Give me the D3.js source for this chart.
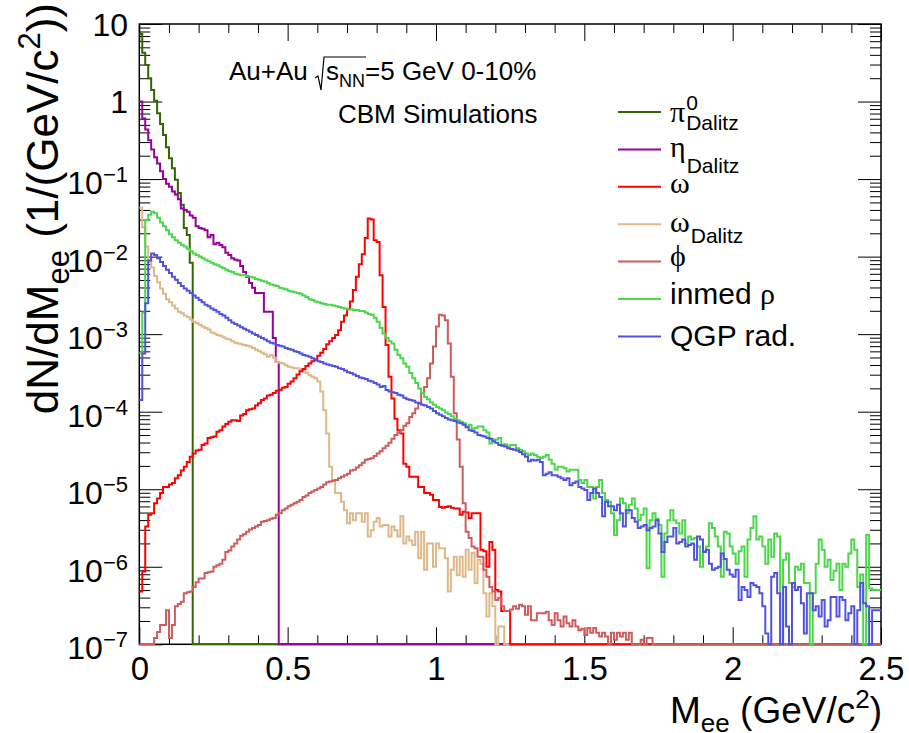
<!DOCTYPE html>
<html>
<head>
<meta charset="utf-8">
<script src="https://cdn.jsdelivr.net/npm/d3@7"></script>
<style>
  html, body { margin: 0; padding: 0; background: #fff; }
  svg { display: block; font-family: "Liberation Sans", Arial, Helvetica, sans-serif; }
  .greek { font-family: "Liberation Serif", "DejaVu Serif", serif; }
</style>
</head>
<body>
<div id="chart"></div>
<script>
/* ============================================================
   dN/dMee cocktail - CBM simulation, ROOT-style log histogram
   ============================================================ */

const W = 909, H = 733;
const FRAME = { left: 139.3, right: 881, top: 24, bottom: 644.3 };

// binning of all histograms
const BIN_WIDTH = 0.01;
const N_BINS = 250;

// axis ticks / labels
const X_TICKS = [0, 0.5, 1, 1.5, 2, 2.5];
const X_TICK_LABELS = ["0", "0.5", "1", "1.5", "2", "2.5"];
const X_MINOR = [0.1, 0.2, 0.3, 0.4, 0.6, 0.7, 0.8, 0.9, 1.1, 1.2, 1.3, 1.4,
  1.6, 1.7, 1.8, 1.9, 2.1, 2.2, 2.3, 2.4];
const Y_DECADES = [-7, -6, -5, -4, -3, -2, -1, 0, 1];
const Y_MINOR_STEPS = [2, 3, 4, 5, 6, 7, 8, 9];

// histogram contents, stored as log10(dN/dMee) per 10 MeV bin.
// null = empty bin; bins past the end of an array are empty.
const pi0Log = [0.87, 0.63, 0.47, 0.30, 0.15, 0.01, -0.15, -0.29, -0.43, -0.59,
  -0.73, -0.86, -1.01, -1.18, -1.33, -1.63, -1.72, -2.08];

const etaLog = [0.00, -0.22, -0.36, -0.50, -0.62, -0.72, -0.80, -0.90, -1.00, -1.06,
  -1.10, -1.16, -1.20, -1.26, -1.38, -1.40, -1.42, -1.47, -1.50, -1.61,
  -1.63, -1.64, -1.66, -1.75, -1.72, -1.84, -1.82, -1.85, -1.88, -1.95,
  -1.98, -2.02, -2.04, -2.05, -2.12, -2.20, -2.26, -2.34, -2.40, -2.47,
  -2.47, -2.47, -2.71, -2.71, -2.71, -3.05, -3.36];

const omegaLog = [-6.32, -6.06, -5.48, -5.33, -5.31, -5.18, -5.12, -5.05, -4.97, -4.97,
  -4.94, -4.92, -4.86, -4.82, -4.76, -4.71, -4.65, -4.58, -4.54, -4.50,
  -4.49, -4.43, -4.41, -4.34, -4.33, -4.32, -4.26, -4.24, -4.19, -4.16,
  -4.13, -4.11, -4.11, -4.12, -4.05, -4.03, -3.98, -3.97, -3.96, -3.92,
  -3.89, -3.85, -3.83, -3.79, -3.78, -3.76, -3.73, -3.72, -3.69, -3.68,
  -3.64, -3.61, -3.57, -3.52, -3.48, -3.45, -3.41, -3.38, -3.35, -3.33,
  -3.28, -3.24, -3.19, -3.13, -3.09, -3.05, -3.01, -2.95, -2.84, -2.76,
  -2.68, -2.58, -2.43, -2.26, -2.10, -1.97, -1.76, -1.51, -1.52, -1.79,
  -1.81, -2.24, -2.65, -3.14, -3.55, -3.83, -4.09, -4.24, -4.28, -4.67,
  -4.71, -4.84, -4.84, -4.84, -4.97, -4.97, -5.05, -5.05, -5.07, -5.14,
  -5.14, -5.23, -5.24, -5.23, -5.22, -5.24, -5.25, -5.25, -5.33, -5.29,
  -5.30, -5.37, -5.31, -5.31, -5.31, -5.78, -5.80, -6.00, -5.68, -5.78,
  -6.30, -6.32, -6.57, -6.57, -6.57];

const omegaDalitzLog = [-1.37, -1.62, -1.87, -2.07, -2.14, -2.25, -2.33, -2.41, -2.48, -2.55,
  -2.59, -2.63, -2.67, -2.71, -2.73, -2.76, -2.78, -2.81, -2.84, -2.86,
  -2.88, -2.90, -2.92, -2.94, -2.98, -2.99, -3.01, -3.02, -3.04, -3.06,
  -3.07, -3.09, -3.11, -3.12, -3.13, -3.14, -3.15, -3.16, -3.18, -3.20,
  -3.22, -3.24, -3.26, -3.29, -3.27, -3.30, -3.36, -3.37, -3.38, -3.40,
  -3.42, -3.43, -3.44, -3.44, -3.46, -3.48, -3.50, -3.53, -3.55, -3.57,
  -3.61, -3.74, -3.98, -4.28, -4.71, -4.88, -5.05, -5.05, -5.16, -5.27,
  -5.44, -5.31, -5.40, -5.31, -5.31, -5.42, -5.31, -5.61, -5.53, -5.42,
  -5.37, -5.48, -5.46, -5.46, -5.61, -5.48, -5.53, -5.61, -5.35, -5.70,
  -5.61, -5.66, -5.72, -5.55, -5.89, -5.55, -6.04, -5.70, -5.70, -6.00,
  -5.70, -5.76, -5.76, -5.89, -6.32, -6.04, -5.87, -6.11, -5.87, -6.13,
  -5.78, -6.04, -5.82, -6.21, -5.91, -5.96, -6.34, -6.64, -6.34, -6.51,
  null, -6.77, -6.77];

const phiLog = [null, null, null, null, null, -6.92, -6.84, -6.75, -6.75, -6.56,
  -6.92, -6.75, -6.51, -6.48, -6.45, -6.34, -6.33, -6.32, -6.26, -6.20,
  -6.15, -6.15, -6.08, -6.07, -6.06, -6.00, -5.98, -5.96, -5.91, -5.81,
  -5.79, -5.74, -5.70, -5.65, -5.60, -5.58, -5.55, -5.52, -5.50, -5.48,
  -5.46, -5.42, -5.41, -5.40, -5.38, -5.37, -5.33, -5.31, -5.27, -5.25,
  -5.22, -5.20, -5.18, -5.16, -5.14, -5.10, -5.08, -5.05, -5.03, -5.01,
  -4.99, -4.97, -4.94, -4.91, -4.90, -4.89, -4.88, -4.86, -4.84, -4.82,
  -4.80, -4.76, -4.75, -4.72, -4.69, -4.66, -4.62, -4.61, -4.60, -4.57,
  -4.54, -4.51, -4.47, -4.44, -4.40, -4.35, -4.30, -4.27, -4.24, -4.18,
  -4.15, -4.07, -4.02, -3.96, -3.89, -3.76, -3.68, -3.57, -3.38, -3.16,
  -2.90, -2.75, -2.76, -2.82, -3.12, -3.55, -4.02, -4.36, -4.71, -5.18,
  -5.55, -5.63, -5.74, -5.76, -5.87, -5.87, -6.04, -6.13, -6.26, -6.32,
  -6.43, -6.40, -6.51, -6.57, -6.57, -6.55, -6.51, -6.54, -6.49, -6.51,
  -6.62, -6.51, -6.69, -6.69, -6.60, -6.60, -6.60, -6.58, -6.69, -6.75,
  -6.60, -6.69, -6.77, -6.64, -6.73, -6.77, -6.69, -6.77, -6.82, -6.80,
  -6.88, -6.79, -6.85, -6.79, -6.85, -6.90, -6.85, -6.90, null, -6.85,
  -6.94, -6.85, -6.90, -6.85, -6.94, -6.85, null, null, null, -6.94,
  null, -6.92, -6.92];

const rhoLog = [-3.24, -2.72, -1.53, -1.46, -1.42, -1.44, -1.50, -1.56, -1.61, -1.66,
  -1.71, -1.75, -1.79, -1.82, -1.85, -1.87, -1.90, -1.93, -1.96, -1.98,
  -2.00, -2.02, -2.04, -2.06, -2.08, -2.10, -2.11, -2.13, -2.15, -2.17,
  -2.19, -2.20, -2.22, -2.23, -2.24, -2.24, -2.25, -2.26, -2.27, -2.29,
  -2.30, -2.31, -2.32, -2.34, -2.36, -2.37, -2.38, -2.40, -2.41, -2.42,
  -2.44, -2.45, -2.46, -2.47, -2.48, -2.50, -2.52, -2.55, -2.56, -2.58,
  -2.59, -2.60, -2.61, -2.62, -2.62, -2.63, -2.64, -2.65, -2.66, -2.67,
  -2.68, -2.68, -2.69, -2.69, -2.70, -2.70, -2.72, -2.74, -2.75, -2.79,
  -2.84, -2.92, -2.99, -3.05, -3.09, -3.12, -3.20, -3.27, -3.31, -3.38,
  -3.42, -3.50, -3.57, -3.63, -3.70, -3.76, -3.81, -3.84, -3.88, -3.91,
  -3.94, -3.96, -3.98, -4.01, -4.03, -4.06, -4.09, -4.11, -4.13, -4.15,
  -4.19, -4.17, -4.22, -4.21, -4.19, -4.19, -4.24, -4.27, -4.41, -4.36,
  -4.36, -4.34, -4.43, -4.42, -4.45, -4.43, -4.43, -4.47, -4.49, -4.51,
  -4.54, -4.56, -4.54, -4.56, -4.58, -4.60, -4.58, -4.56, -4.62, -4.67,
  -4.75, -4.71, -4.71, -4.73, -4.77, -4.75, -4.75, -4.75, -4.88, -4.92,
  -4.88, -4.97, -4.97, -5.12, -4.97, -4.88, -5.05, -5.14, -5.16, -5.31,
  -5.59, -5.40, -5.12, -5.18, -5.31, -5.20, -5.12, -5.25, -5.40, -5.33,
  -5.25, -6.02, -5.40, -5.31, -5.38, -5.46, -6.13, -5.57, -5.40, -5.27,
  -5.40, -5.44, -5.57, -5.40, -5.70, -5.61, -5.65, -5.63, -5.74, -6.00,
  -5.80, -5.74, -5.44, -5.50, -5.61, -5.74, -6.13, -5.55, -5.57, -5.74,
  -5.83, -5.96, -5.80, -5.74, -6.13, -5.65, -5.50, -5.35, -5.65, -5.61,
  -5.74, -5.96, -5.65, -5.87, -5.57, -5.61, null, -5.91, -5.83, -6.21,
  -6.26, -6.00, -6.04, -5.96, -6.21, -6.21, null, -6.34, -5.96, -5.65,
  -5.78, -6.00, -5.91, -6.17, -6.05, -5.96, -6.30, -5.96, -6.00, -5.83,
  -5.65, -5.78, -6.26, -6.10, null, -5.59, -6.28, -6.30, -6.30, -6.30];

const qgpLog = [-3.85, -3.25, -2.60, -2.05, -1.96, -1.98, -2.02, -2.07, -2.12, -2.17,
  -2.21, -2.26, -2.30, -2.34, -2.38, -2.41, -2.44, -2.47, -2.50, -2.53,
  -2.56, -2.59, -2.62, -2.64, -2.67, -2.69, -2.71, -2.74, -2.76, -2.79,
  -2.82, -2.85, -2.87, -2.89, -2.91, -2.93, -2.95, -2.97, -2.99, -3.01,
  -3.03, -3.05, -3.07, -3.09, -3.11, -3.12, -3.14, -3.15, -3.16, -3.18,
  -3.19, -3.20, -3.22, -3.23, -3.25, -3.27, -3.28, -3.29, -3.31, -3.33,
  -3.35, -3.36, -3.38, -3.39, -3.40, -3.41, -3.42, -3.44, -3.45, -3.47,
  -3.49, -3.50, -3.52, -3.54, -3.56, -3.57, -3.58, -3.60, -3.61, -3.63,
  -3.65, -3.68, -3.67, -3.72, -3.74, -3.75, -3.76, -3.78, -3.79, -3.82,
  -3.84, -3.85, -3.86, -3.88, -3.89, -3.91, -3.92, -3.94, -3.96, -3.99,
  -4.02, -4.04, -4.06, -4.08, -4.10, -4.11, -4.12, -4.14, -4.15, -4.17,
  -4.20, -4.24, -4.25, -4.27, -4.30, -4.31, -4.32, -4.34, -4.35, -4.38,
  -4.40, -4.43, -4.44, -4.45, -4.47, -4.48, -4.49, -4.50, -4.52, -4.55,
  -4.58, -4.64, -4.62, -4.63, -4.62, -4.65, -4.82, -4.80, -4.78, -4.82,
  -4.82, -4.84, -4.86, -4.88, -4.86, -4.95, -4.92, -4.90, -4.97, -4.99,
  -5.01, -5.14, -5.05, -4.99, -5.05, -5.10, -5.35, -5.16, -5.22, -5.22,
  -5.27, -5.20, -5.31, -5.48, -5.27, -5.27, -5.37, -5.42, -5.50, -5.48,
  -5.46, -5.53, -5.50, -5.48, -5.40, -5.57, -5.81, -5.68, -5.61, -5.61,
  -5.50, -5.70, -5.68, -5.65, -5.74, -5.72, -5.70, -5.91, -5.61, -5.65,
  -5.81, -5.78, -5.96, -6.04, -6.02, -6.00, -5.83, -5.90, -6.04, -6.10,
  -6.13, -6.04, -6.43, -6.26, -6.30, -6.39, -6.21, -6.24, -6.26, -6.34,
  -6.51, -6.86, null, -6.13, -6.08, -6.34, null, -6.26, -6.77, null,
  -6.21, -6.30, -6.26, -6.47, -6.86, -6.34, -6.34, -6.56, -6.51, -6.64,
  -6.43, -6.77, -6.69, -6.39, -6.39, -6.64, -6.39, -6.43, -6.69, -6.60,
  -6.51, null, -6.56, -6.21, -6.47, -6.51, null, -6.56, -6.56, -6.56];

// draw order (later on top), colours and legend rows
const SERIES = [
  { key: "pi0", data: pi0Log, color: "#336600" },
  { key: "eta", data: etaLog, color: "#990099" },
  { key: "omegaDalitz", data: omegaDalitzLog, color: "#deb887" },
  { key: "omega", data: omegaLog, color: "#ff0000" },
  { key: "phi", data: phiLog, color: "#cd5c5c" },
  { key: "rho", data: rhoLog, color: "#4cd64c" },
  { key: "qgp", data: qgpLog, color: "#5252e0" },
];
const LEGEND_ORDER = ["pi0", "eta", "omega", "omegaDalitz", "phi", "rho", "qgp"];

/* ---------- scales ---------- */
const x = d3.scaleLinear().domain([0, 2.5]).range([FRAME.left, FRAME.right]);
const y = d3.scaleLog().domain([1e-7, 10]).range([FRAME.bottom, FRAME.top]).clamp(true);

const svg = d3.select("#chart").append("svg")
  .attr("width", W).attr("height", H)
  .attr("viewBox", `0 0 ${W} ${H}`);

/* ---------- frame + ticks (drawn first, histograms go on top) ---------- */
const axG = svg.append("g").attr("stroke-width", 1);

function drawAxis(axis, tx, ty) {
  const g = axG.append("g").attr("transform", `translate(${tx},${ty})`).call(axis);
  g.select(".domain").remove();
  g.selectAll("line").attr("stroke", "#000");
  return g;
}

// x: bottom + top, major and minor
drawAxis(d3.axisBottom(x).tickValues(X_MINOR).tickSize(-9).tickFormat(""), 0, FRAME.bottom);
drawAxis(d3.axisTop(x).tickValues(X_MINOR).tickSize(-9).tickFormat(""), 0, FRAME.top);
drawAxis(d3.axisTop(x).tickValues(X_TICKS).tickSize(-17).tickFormat(""), 0, FRAME.top);
const xAx = drawAxis(
  d3.axisBottom(x).tickValues(X_TICKS).tickSize(-17).tickPadding(12)
    .tickFormat((d, i) => X_TICK_LABELS[i]),
  0, FRAME.bottom
);
xAx.selectAll("text")
  .attr("font-size", 33)
  .attr("fill", "#000");

// y: left + right, decades and 2..9 minors
const yMajor = Y_DECADES.map((e) => Math.pow(10, e));
const yMinor = [];
Y_DECADES.slice(0, -1).forEach((e) =>
  Y_MINOR_STEPS.forEach((k) => yMinor.push(k * Math.pow(10, e)))
);
drawAxis(d3.axisLeft(y).tickValues(yMinor).tickSize(-11).tickFormat(""), FRAME.left, 0);
drawAxis(d3.axisLeft(y).tickValues(yMajor).tickSize(-23).tickFormat(""), FRAME.left, 0);
drawAxis(d3.axisRight(y).tickValues(yMinor).tickSize(-11).tickFormat(""), FRAME.right, 0);
drawAxis(d3.axisRight(y).tickValues(yMajor).tickSize(-23).tickFormat(""), FRAME.right, 0);

svg.append("rect")
  .attr("x", FRAME.left).attr("y", FRAME.top)
  .attr("width", FRAME.right - FRAME.left)
  .attr("height", FRAME.bottom - FRAME.top)
  .attr("fill", "none").attr("stroke", "#000").attr("stroke-width", 1.5);

/* ---------- histograms as step lines ---------- */
function yOf(logVal) {
  return logVal == null ? y(1e-7) : y(Math.pow(10, logVal));
}

function stepPoints(vals) {
  const pts = [];
  for (let i = 0; i < N_BINS; i++) {
    const v = i < vals.length ? vals[i] : null;
    const py = yOf(v);
    pts.push([x(i * BIN_WIDTH), py], [x((i + 1) * BIN_WIDTH), py]);
  }
  return pts;
}

const histG = svg.append("g");
SERIES.forEach((s) => {
  histG.append("path")
    .attr("d", d3.line()(stepPoints(s.data)))
    .attr("fill", "none")
    .attr("stroke", s.color)
    .attr("stroke-width", 2)
    .attr("stroke-linejoin", "miter");
});

// y tick labels: 10, 1, 10^-1 ... 10^-7
Y_DECADES.forEach((e) => {
  const t = svg.append("text")
    .attr("x", 128)
    .attr("y", y(Math.pow(10, e)) + (e < 0 ? 15 : 11.5))
    .attr("text-anchor", "end")
    .attr("font-size", 32);
  if (e === 1) t.text("10");
  else if (e === 0) t.text("1");
  else {
    t.append("tspan").text("10");
    t.append("tspan").attr("dy", -12).attr("font-size", 22).text("\u2212" + -e);
  }
});

/* ---------- axis titles ---------- */
const xt = svg.append("text")
  .attr("x", 882).attr("y", 723)
  .attr("text-anchor", "end").attr("font-size", 37);
xt.append("tspan").text("M");
xt.append("tspan").attr("dy", 9).attr("font-size", 26).text("ee");
xt.append("tspan").attr("dy", -9).text(" (GeV/c");
xt.append("tspan").attr("dy", -15).attr("font-size", 26).text("2");
xt.append("tspan").attr("dy", 15).text(")");

const yt = svg.append("text")
  .attr("transform", "translate(58,3) rotate(-90)")
  .attr("text-anchor", "end").attr("font-size", 44);
yt.append("tspan").text("dN/dM");
yt.append("tspan").attr("dy", 11).attr("font-size", 31).text("ee");
yt.append("tspan").attr("dy", -11).text(" (1/(GeV/c");
yt.append("tspan").attr("dy", -18).attr("font-size", 31).text("2");
yt.append("tspan").attr("dy", 18).text("))");

/* ---------- header text ---------- */
const hd = svg.append("text").attr("x", 229).attr("y", 80).attr("font-size", 26);
hd.append("tspan").text("Au+Au ");
hd.append("tspan").attr("dx", 11).text("s");
hd.append("tspan").attr("dy", 7).attr("font-size", 18).text("NN");
hd.append("tspan").attr("dy", -7).text("=5 GeV 0-10%");
{
  const node = hd.node();
  const sx = node.getStartPositionOfChar(6).x;
  const ex = node.getEndPositionOfChar(8).x;
  const top = 57, bot = 90;
  svg.append("path")
    .attr("d", `M${sx - 11},${bot - 12} L${sx - 8},${bot - 14} L${sx - 5},${bot} L${sx - 2},${top} L${ex + 1},${top}`)
    .attr("fill", "none").attr("stroke", "#000").attr("stroke-width", 1.2);
}

svg.append("text").attr("x", 338).attr("y", 123).attr("font-size", 26)
  .text("CBM Simulations");

/* ---------- legend ---------- */
const LEG = { x1: 618, x2: 661, tx: 670, y0: 112, dy: 37.4 };
const legendRows = {
  pi0: (t) => { t.append("tspan").attr("class", "greek").text("\u03c0"); },
  eta: (t) => { t.append("tspan").attr("class", "greek").text("\u03b7"); },
  omega: (t) => { t.append("tspan").attr("class", "greek").text("\u03c9"); },
  omegaDalitz: (t) => { t.append("tspan").attr("class", "greek").text("\u03c9"); },
  phi: (t) => { t.append("tspan").attr("class", "greek").text("\u03d5"); },
  rho: (t) => { t.text("inmed "); t.append("tspan").attr("class", "greek").text("\u03c1"); },
  qgp: (t) => { t.text("QGP rad."); },
};
const BASE_SHIFT = { pi0: 10, eta: 8, omega: 6, omegaDalitz: 8, phi: 4, rho: 5, qgp: 10 };
const SUB_SHIFT = { pi0: 18, eta: 24, omegaDalitz: 19 };

const legG = svg.append("g");
LEGEND_ORDER.forEach((key, i) => {
  const s = SERIES.find((d) => d.key === key);
  const cy = LEG.y0 + i * LEG.dy;
  legG.append("line")
    .attr("x1", LEG.x1).attr("x2", LEG.x2)
    .attr("y1", cy).attr("y2", cy)
    .attr("stroke", s.color).attr("stroke-width", 2);
  const t = legG.append("text")
    .attr("x", LEG.tx).attr("y", cy + BASE_SHIFT[key])
    .attr("font-size", 30);
  legendRows[key](t);
  const w = t.node().getComputedTextLength();
  if (key === "pi0") {
    legG.append("text").attr("x", LEG.tx + w + 1).attr("y", cy - 2)
      .attr("font-size", 21).text("0");
  }
  if (SUB_SHIFT[key] != null) {
    legG.append("text").attr("x", LEG.tx + w + 1).attr("y", cy + SUB_SHIFT[key])
      .attr("font-size", 21).text("Dalitz");
  }
});
</script>
</body>
</html>
